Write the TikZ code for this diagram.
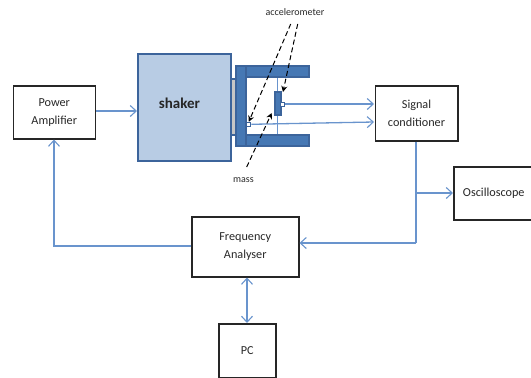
\documentclass[tikz,border=0pt]{standalone}
\usepackage{fontspec}
\setmainfont{Carlito}
\usetikzlibrary{arrows.meta}
\definecolor{linkblue}{RGB}{105,148,205}
\definecolor{darkblue}{RGB}{60,100,155}
\definecolor{midblue}{RGB}{70,120,180}
\definecolor{lightblue}{RGB}{184,204,228}
\definecolor{txt}{RGB}{40,40,40}
\tikzset{
  x=1pt,y=-1pt,
  boxnode/.style={draw=black!85,line width=1.5pt,fill=white,align=center,inner sep=0pt,font=\fontsize{12.2}{18}\selectfont,text=txt,anchor=north west},
  link/.style={draw=linkblue,line width=1.3pt,-{Straight Barb[length=6pt,width=11pt,line width=1.1pt]}},
  biglink/.style={draw=linkblue,line width=1.3pt,{Straight Barb[length=6pt,width=11pt,line width=1.1pt]}-{Straight Barb[length=6pt,width=11pt,line width=1.1pt]}},
  plain/.style={draw=linkblue,line width=1.3pt},
  frame/.style={draw=darkblue,fill=midblue,line width=1.2pt},
  callout/.style={draw=black,line width=1pt,dash pattern=on 5pt off 3pt,-{Stealth[length=6pt,width=6pt]}},
  small/.style={font=\fontsize{10}{12}\selectfont,text=txt}
}
\begin{document}
\begin{tikzpicture}
\useasboundingbox (0,0) rectangle (531,378);
\node[boxnode,minimum width=82pt,minimum height=53pt] (amp) at (12.5,85) {Power\\Amplifier};
\fill[gray!45,draw=darkblue,line width=1.2pt] (231,79) rectangle (236,135);
\node[draw=darkblue,fill=lightblue,line width=2pt,minimum width=93pt,minimum height=107pt,anchor=north west,inner sep=0pt] (shaker) at (137,53) {};
\node[font=\fontsize{15}{17}\selectfont\bfseries,text=black!85] (shakerlabel) at (179.5,103) {shaker};
\node[boxnode,minimum width=82.5pt,minimum height=55pt] (sig) at (374.5,85) {Signal\\conditioner};
\node[boxnode,minimum width=80pt,minimum height=53pt] (osc) at (453,166) {Oscilloscope};
\node[boxnode,minimum width=107pt,minimum height=60pt] (freq) at (191,216) {Frequency\\Analyser};
\node[boxnode,minimum width=57pt,minimum height=54pt] (pc) at (218,323) {PC};
\node[small] (acclabel) at (295,12) {accelerometer};
\node[small] (masslabel) at (243.5,180) {mass};
% fixture
\draw[plain] (277.5,77) -- (277.5,135);
\draw[frame] (236,66) rectangle (309,77);
\draw[frame] (236,135) rectangle (309,146);
\draw[frame] (236,66) rectangle (246,146);
\draw[frame] (275,92) rectangle (281,115);
\node[draw=darkblue,fill=white,line width=1pt,minimum size=4pt,inner sep=0pt] (accsensor) at (282.8,104) {};
\node[draw=darkblue,fill=white,line width=1pt,minimum size=4pt,inner sep=0pt] (masssensor) at (248.8,124.3) {};
% connectors
\coordinate (sigA) at (374,104);
\coordinate (sigB) at (374,122);
\draw[link] (accsensor.east) -- (sigA);
\draw[link] (masssensor.east) -- (sigB);
\draw[link] (amp.east |- 0,111) -- (shaker.west |- 0,111);
\coordinate (junction) at (416,193);
\coordinate (corner) at (416,243);
\draw[plain] (sig.south -| junction) -- (corner);
\draw[link] (corner) -- (freq.east |- corner);
\draw[link] (junction) -- (osc.west |- junction);
\coordinate (bend) at (54,246);
\draw[link] (freq.west |- bend) -- (bend) -- (bend |- amp.south);
\coordinate (pcx) at (247,0);
\draw[biglink] (freq.south -| pcx) -- (pc.north -| pcx);
% callouts
\coordinate (a1) at (290.7,24);
\coordinate (a2) at (297.7,24);
\coordinate (m1) at (246.7,167);
\coordinate (m2) at (271.7,113);
\coordinate (a2end) at (283,92);
\draw[callout] (a1) -- (masssensor.north);
\draw[callout] (a2) -- (a2end);
\draw[callout] (m1) -- (m2);
\end{tikzpicture}
\end{document}
